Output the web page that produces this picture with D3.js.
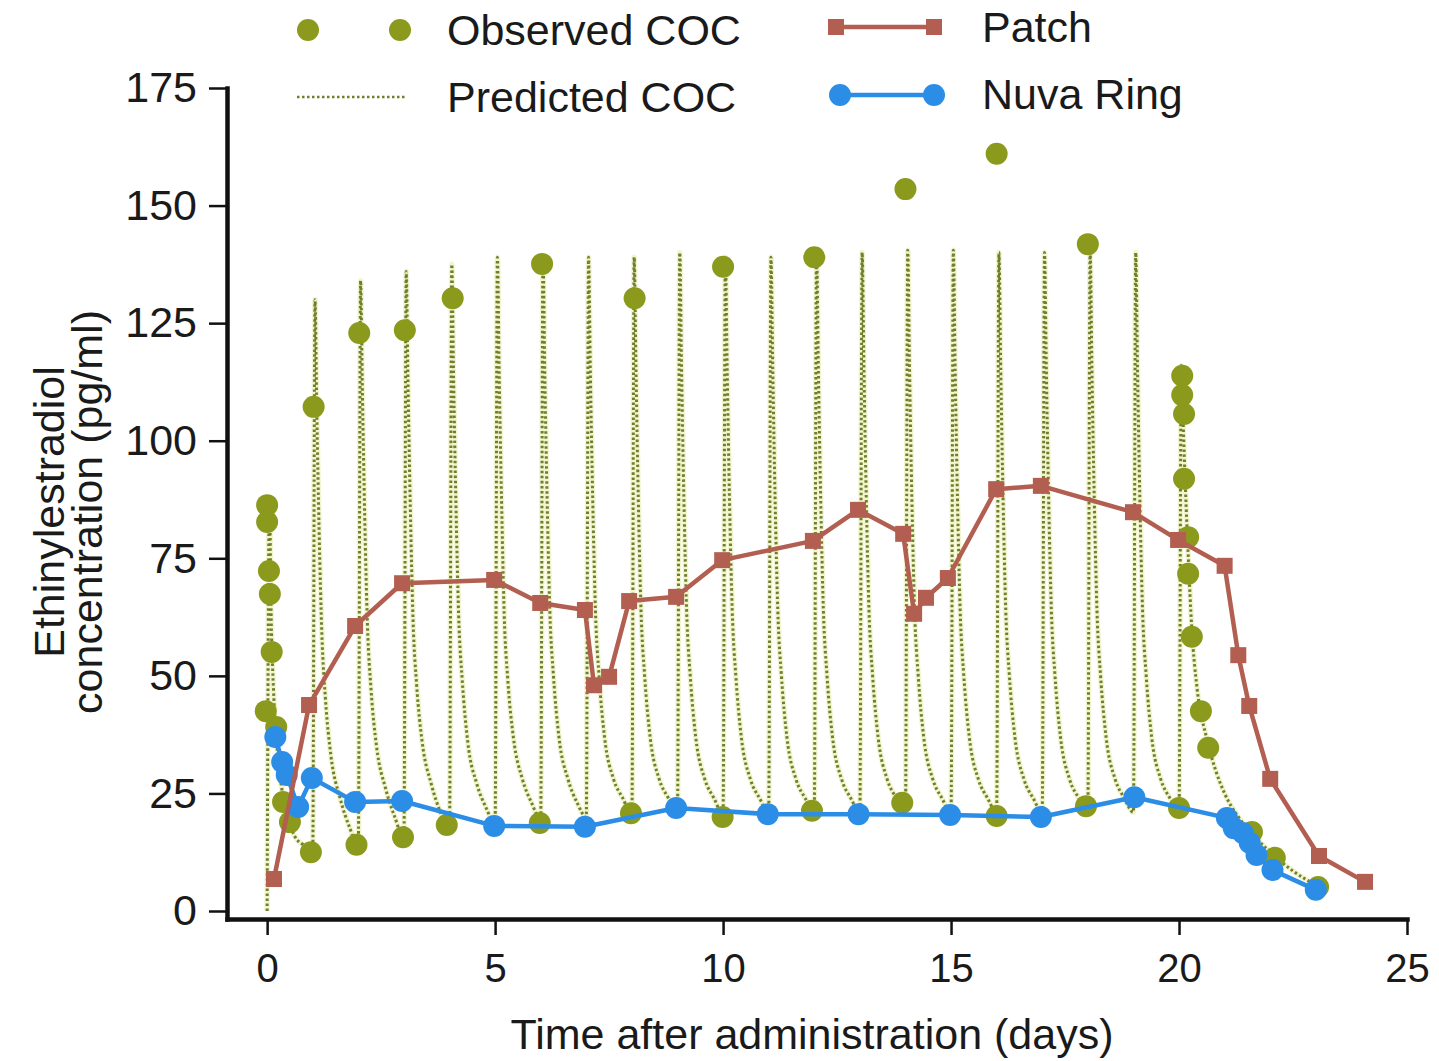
<!DOCTYPE html>
<html>
<head>
<meta charset="utf-8">
<script src="https://cdn.jsdelivr.net/npm/d3@7"></script>
<style>
  html, body { margin: 0; padding: 0; background: #fff; }
  svg { display: block; font-family: "Liberation Sans", Arial, Helvetica, sans-serif; }
</style>
</head>
<body>
<svg id="chart" width="1439" height="1061"></svg>
<script>
// ---------- DATA ----------
const xTicks = [0, 5, 10, 15, 20, 25];
const yTicks = [0, 25, 50, 75, 100, 125, 150, 175];

// Observed COC
const obsDays = [0.0, 0.0, 0.04, 0.06, 0.1, -0.03, 0.2, 0.35, 0.5,
  0.96, 1.02, 1.96, 2.02, 2.98, 3.02, 3.94, 4.07, 5.98, 6.03, 7.98, 8.06,
  9.99, 10.0, 11.95, 12.0, 13.93, 14.0, 16.0, 16.0, 17.96, 18.0,
  20.0, 20.07, 20.07, 20.11, 20.11, 20.2, 20.2, 20.28, 20.48, 20.64,
  21.6, 22.1, 23.05];
const obsValues = [86.3, 82.7, 72.3, 67.4, 55.1, 42.5, 39.1, 23.2, 18.9,
  12.5, 107.2, 14.1, 122.9, 15.7, 123.5, 18.3, 130.3, 18.7, 137.6, 20.8, 130.3,
  20.0, 137.0, 21.3, 139.0, 23.0, 153.5, 20.2, 161.0, 22.3, 141.8,
  21.9, 113.8, 109.7, 105.7, 91.9, 79.5, 71.7, 58.3, 42.5, 34.7,
  16.8, 11.3, 5.1];

// Predicted COC: one row of values per daily dose, read at these offsets (days after dose)
const predDoseDays = [0, 1, 2, 3, 4, 5, 6, 7, 8, 9, 10, 11, 12, 13, 14, 15, 16, 17, 18, 19, 20];
const predOffsets = [0, 0.05, 0.09, 0.14, 0.2, 0.28, 0.4, 0.6, 0.8];
const predCycleValues = [
  [0,    88,  62,  47, 37, 29, 22, 16, 14],
  [12.5, 130, 106, 81, 59, 45, 33, 24, 18],
  [14,   134, 110, 84, 61, 47, 35, 26, 20],
  [15.5, 136, 112, 86, 62, 48, 36, 27, 21],
  [17,   137.5, 113, 87, 63, 49, 36, 27, 22],
  [18.5, 139, 114, 88, 63, 49, 37, 28, 23],
  [19.5, 139, 114, 88, 64, 50, 37, 28, 23],
  [20,   139, 114, 88, 64, 50, 37, 28, 24],
  [20.5, 139, 115, 88, 64, 50, 37, 28, 24],
  [20.5, 140, 115, 88, 64, 50, 37, 28, 24],
  [20.5, 139, 115, 88, 64, 50, 37, 28, 24],
  [21,   139, 115, 88, 64, 50, 37, 28, 24],
  [21,   140.5, 115, 88, 64, 50, 37, 28, 24],
  [21,   140, 115, 88, 64, 50, 37, 28, 24],
  [21,   140.5, 115, 88, 64, 50, 37, 28, 24],
  [21,   140.5, 115, 88, 64, 50, 37, 28, 24],
  [21,   140, 115, 88, 64, 50, 37, 28, 24],
  [21,   140, 115, 88, 64, 50, 37, 28, 24],
  [21,   140, 115, 88, 64, 50, 37, 28, 24],
  [21,   140, 115, 88, 64, 50, 37, 28, 24],
  [21,   116, 104, 90, 76, 60, 47, 37, 30]
];
const predTailDays = [21.0, 21.3, 21.6, 22.0, 22.5, 23.0];
const predTailValues = [25, 20, 16.5, 12.5, 8.5, 5.5];

// Patch
const patchDays = [0.15, 0.92, 1.93, 2.96, 4.98, 5.99, 6.97, 7.17, 7.5, 7.94, 8.97, 9.98,
  11.97, 12.96, 13.95, 14.19, 14.45, 14.93, 15.99, 16.97, 18.99, 19.98,
  21.0, 21.3, 21.54, 22.0, 23.07, 24.08];
const patchValues = [6.8, 43.8, 60.6, 69.7, 70.4, 65.5, 64.0, 48.0, 49.8, 65.9, 66.8, 74.6,
  78.7, 85.3, 80.2, 63.2, 66.6, 70.8, 89.7, 90.4, 84.8, 78.9,
  73.4, 54.4, 43.6, 28.1, 11.7, 6.2];

// Nuva Ring
const ringDays = [0.18, 0.33, 0.43, 0.68, 0.98, 1.93, 2.96, 4.98, 6.97, 8.97, 10.98, 12.97,
  14.98, 16.97, 19.02, 21.05, 21.2, 21.4, 21.55, 21.7, 22.05, 23.0];
const ringValues = [37.0, 31.7, 28.9, 22.1, 28.3, 23.2, 23.4, 18.1, 17.9, 21.9, 20.6, 20.6,
  20.4, 20.0, 24.2, 19.8, 17.6, 16.6, 14.5, 11.9, 8.7, 4.5];

const legendLabels = ["Observed COC", "Predicted COC", "Patch", "Nuva Ring"];
const xTitle = "Time after administration (days)";
const yTitleLines = ["Ethinylestradiol", "concentration (pg/ml)"];

// ---------- STYLE ----------
const C_OBS = "#8b9a1c";
const C_PRED = "#727e2c";
const C_PATCH = "#b25e50";
const C_RING = "#2b8de6";

// ---------- DRAW ----------
const svg = d3.select("#chart");
const x = d3.scaleLinear().domain([-0.88, 25]).range([227, 1407]);
const y = d3.scaleLinear().domain([-1.7, 175]).range([919, 88]);

// predicted points
const predPts = [];
predDoseDays.forEach((d, i) => {
  predOffsets.forEach((o, j) => predPts.push([d + o, predCycleValues[i][j]]));
});
predTailDays.forEach((d, i) => predPts.push([d, predTailValues[i]]));

const predLine = d3.line().x(d => x(d[0])).y(d => y(d[1])).curve(d3.curveMonotoneX);
svg.append("path").datum(predPts).attr("d", predLine)
  .attr("fill", "none").attr("stroke", "#eef3c4").attr("stroke-width", 5.5).attr("opacity", 0.8);
svg.append("path").datum(predPts).attr("d", predLine)
  .attr("fill", "none").attr("stroke", C_PRED).attr("stroke-width", 3)
  .attr("stroke-dasharray", "2.5,2.5");

// observed
svg.append("g").selectAll("circle").data(obsDays.map((d, i) => [d, obsValues[i]]))
  .join("circle")
  .attr("cx", d => x(d[0])).attr("cy", d => y(d[1])).attr("r", 11)
  .attr("fill", C_OBS);

// nuva ring
const ringPts = ringDays.map((d, i) => [d, ringValues[i]]);
const lin = d3.line().x(d => x(d[0])).y(d => y(d[1]));
svg.append("path").datum(ringPts).attr("d", lin)
  .attr("fill", "none").attr("stroke", C_RING).attr("stroke-width", 4.5).attr("stroke-linejoin", "round");
svg.append("g").selectAll("circle").data(ringPts).join("circle")
  .attr("cx", d => x(d[0])).attr("cy", d => y(d[1])).attr("r", 11).attr("fill", C_RING);

// patch
const patchPts = patchDays.map((d, i) => [d, patchValues[i]]);
svg.append("path").datum(patchPts).attr("d", lin)
  .attr("fill", "none").attr("stroke", C_PATCH).attr("stroke-width", 4.5).attr("stroke-linejoin", "round");
svg.append("g").selectAll("rect").data(patchPts).join("rect")
  .attr("x", d => x(d[0]) - 8).attr("y", d => y(d[1]) - 8)
  .attr("width", 16).attr("height", 16).attr("fill", C_PATCH);

// axes
const xAxis = d3.axisBottom(x).tickValues(xTicks).tickSize(16).tickPadding(19).tickSizeOuter(0);
const yAxis = d3.axisLeft(y).tickValues(yTicks).tickSize(18).tickPadding(12).tickSizeOuter(0);

const gx = svg.append("g").attr("transform", "translate(0,919)").call(xAxis);
const gy = svg.append("g").attr("transform", "translate(227,0)").call(yAxis);
[gx, gy].forEach(g => {
  g.select(".domain").attr("stroke", "#111").attr("stroke-width", 4.5).attr("stroke-linecap", "square");
  g.selectAll(".tick line").attr("stroke", "#111").attr("stroke-width", 2.5);
  g.selectAll(".tick text").attr("fill", "#1a1a1a").attr("font-family", "'Liberation Sans', Arial, sans-serif");
});
gx.selectAll(".tick text").attr("font-size", 40);
gy.selectAll(".tick text").attr("font-size", 43);

// axis titles
svg.append("text").attr("x", 812).attr("y", 1049).attr("text-anchor", "middle")
  .attr("font-size", 43).attr("fill", "#1a1a1a").text(xTitle);
yTitleLines.forEach((t, i) => {
  svg.append("text")
    .attr("transform", `translate(${[64, 102][i]},512) rotate(-90)`)
    .attr("text-anchor", "middle").attr("font-size", 43).attr("fill", "#1a1a1a").text(t);
});

// legend
const lg = svg.append("g");
[308, 400].forEach(cx => lg.append("circle").attr("cx", cx).attr("cy", 30).attr("r", 11).attr("fill", C_OBS));
lg.append("line").attr("x1", 297).attr("x2", 407).attr("y1", 97).attr("y2", 97)
  .attr("stroke", C_PRED).attr("stroke-width", 2.6).attr("stroke-dasharray", "2.5,2.5");
lg.append("line").attr("x1", 836).attr("x2", 934).attr("y1", 27).attr("y2", 27)
  .attr("stroke", C_PATCH).attr("stroke-width", 4.5);
[836, 934].forEach(cx => lg.append("rect").attr("x", cx - 8).attr("y", 19).attr("width", 16).attr("height", 16).attr("fill", C_PATCH));
lg.append("line").attr("x1", 840).attr("x2", 934).attr("y1", 95).attr("y2", 95)
  .attr("stroke", C_RING).attr("stroke-width", 4.5);
[840, 934].forEach(cx => lg.append("circle").attr("cx", cx).attr("cy", 95).attr("r", 11).attr("fill", C_RING));
const legPos = [[447, 45], [447, 112], [982, 42], [982, 109]];
legendLabels.forEach((t, i) => {
  lg.append("text").attr("x", legPos[i][0]).attr("y", legPos[i][1])
    .attr("font-size", 43).attr("fill", "#1a1a1a").text(t);
});
</script>
</body>
</html>
